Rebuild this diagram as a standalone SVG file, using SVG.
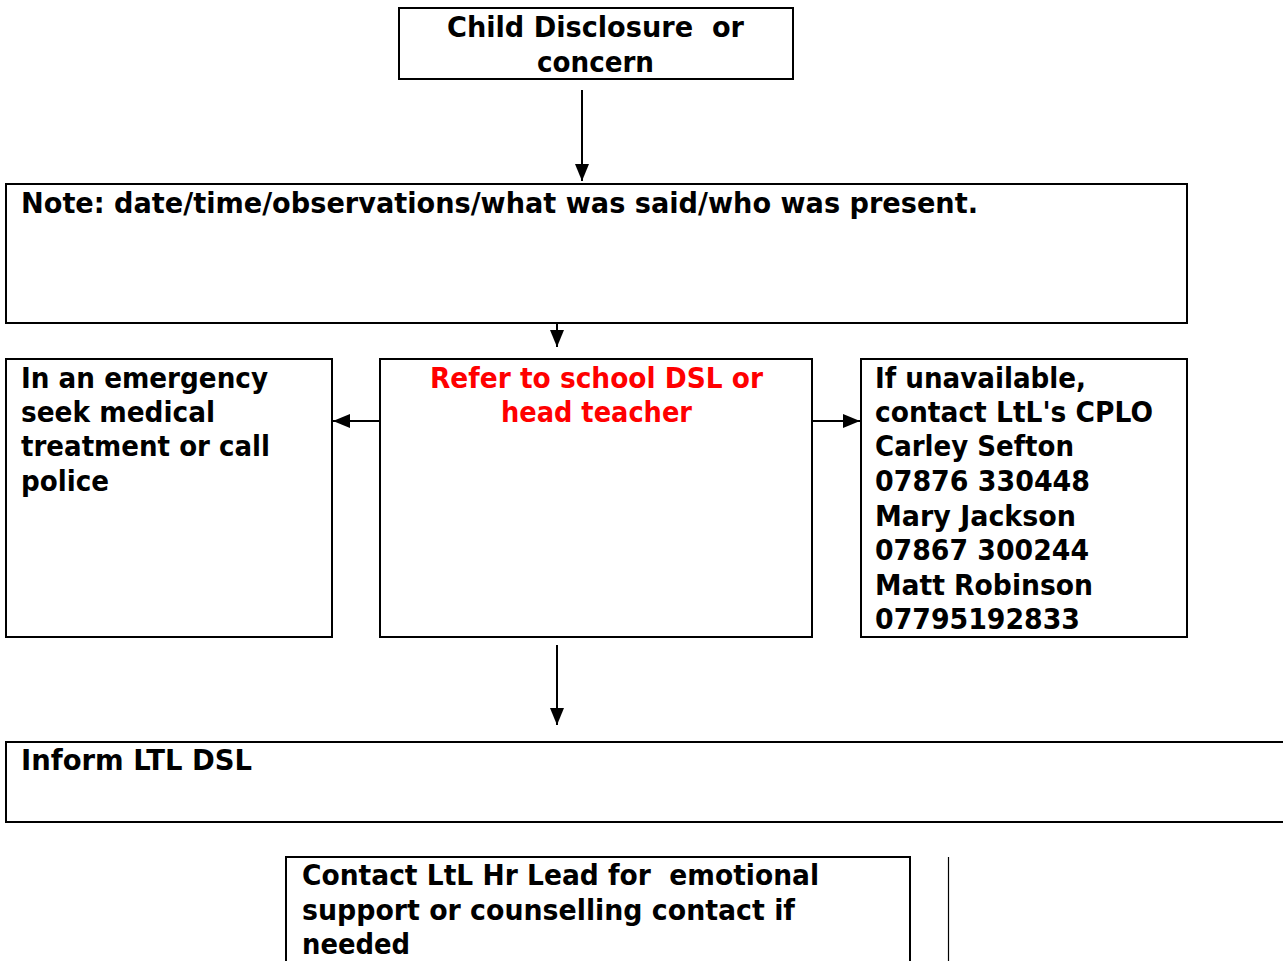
<svg xmlns="http://www.w3.org/2000/svg" width="1283" height="961" viewBox="0 0 1283 961">
<defs>
<style>
.box{fill:#fff;stroke:#000;stroke-width:2}
.t{font-family:"DejaVu Sans","Liberation Sans",sans-serif;font-weight:bold;font-size:28px;fill:#000}
.red{fill:#ff0000}
.c{stroke:#000;stroke-width:2;fill:none}
</style>
<marker id="ah" viewBox="0 0 17 14" refX="17" refY="7" markerWidth="17" markerHeight="14" markerUnits="userSpaceOnUse" orient="auto">
<path d="M0,0 L17,7 L0,14 Z" fill="#000"/>
</marker>
</defs>
<rect width="1283" height="961" fill="#fff"/>
<g id="connectors">
<line class="c" x1="582" y1="90" x2="582" y2="181" marker-end="url(#ah)"/>
<line class="c" x1="557" y1="323" x2="557" y2="347" marker-end="url(#ah)"/>
<line class="c" x1="380" y1="421" x2="333" y2="421" marker-end="url(#ah)"/>
<line class="c" x1="812" y1="421" x2="860" y2="421" marker-end="url(#ah)"/>
<line class="c" x1="557" y1="645" x2="557" y2="725" marker-end="url(#ah)"/>
<line x1="948.5" y1="857" x2="948.5" y2="961" stroke="#000" stroke-width="1.2"/>
</g>
<g id="disclosure">
<rect class="box" x="399" y="8" width="394" height="71"/>
<text class="t" x="447" y="37" textLength="297" lengthAdjust="spacingAndGlyphs" xml:space="preserve">Child Disclosure  or</text>
<text class="t" x="537" y="72" textLength="117" lengthAdjust="spacingAndGlyphs">concern</text>
</g>
<g id="note">
<rect class="box" x="6" y="184" width="1181" height="139"/>
<text class="t" x="21" y="213" textLength="957" lengthAdjust="spacingAndGlyphs">Note: date/time/observations/what was said/who was present.</text>
</g>
<g id="emergency">
<rect class="box" x="6" y="359" width="326" height="278"/>
<text class="t" x="21" y="388" textLength="247" lengthAdjust="spacingAndGlyphs">In an emergency</text>
<text class="t" x="21" y="422" textLength="194" lengthAdjust="spacingAndGlyphs">seek medical</text>
<text class="t" x="21" y="456" textLength="249" lengthAdjust="spacingAndGlyphs">treatment or call</text>
<text class="t" x="21" y="491" textLength="88" lengthAdjust="spacingAndGlyphs">police</text>
</g>
<g id="refer">
<rect class="box" x="380" y="359" width="432" height="278"/>
<text class="t red" x="430" y="388" textLength="333" lengthAdjust="spacingAndGlyphs">Refer to school DSL or</text>
<text class="t red" x="501" y="422" textLength="191" lengthAdjust="spacingAndGlyphs">head teacher</text>
</g>
<g id="unavailable">
<rect class="box" x="861" y="359" width="326" height="278"/>
<text class="t" x="875" y="388" textLength="211" lengthAdjust="spacingAndGlyphs">If unavailable,</text>
<text class="t" x="875" y="422" textLength="278" lengthAdjust="spacingAndGlyphs">contact LtL's CPLO</text>
<text class="t" x="875" y="456" textLength="199" lengthAdjust="spacingAndGlyphs">Carley Sefton</text>
<text class="t" x="875" y="491" textLength="215" lengthAdjust="spacingAndGlyphs">07876 330448</text>
<text class="t" x="875" y="526" textLength="201" lengthAdjust="spacingAndGlyphs">Mary Jackson</text>
<text class="t" x="875" y="560" textLength="214" lengthAdjust="spacingAndGlyphs">07867 300244</text>
<text class="t" x="875" y="595" textLength="218" lengthAdjust="spacingAndGlyphs">Matt Robinson</text>
<text class="t" x="875" y="629" textLength="205" lengthAdjust="spacingAndGlyphs">07795192833</text>
</g>
<g id="inform">
<rect class="box" x="6" y="742" width="1290" height="80"/>
<text class="t" x="21" y="770" textLength="231" lengthAdjust="spacingAndGlyphs">Inform LTL DSL</text>
</g>
<g id="hrlead">
<rect class="box" x="286" y="857" width="624" height="120"/>
<text class="t" x="302" y="885" textLength="517" lengthAdjust="spacingAndGlyphs" xml:space="preserve">Contact LtL Hr Lead for  emotional</text>
<text class="t" x="302" y="920" textLength="493" lengthAdjust="spacingAndGlyphs">support or counselling contact if</text>
<text class="t" x="302" y="954" textLength="108" lengthAdjust="spacingAndGlyphs">needed</text>
</g>
</svg>
